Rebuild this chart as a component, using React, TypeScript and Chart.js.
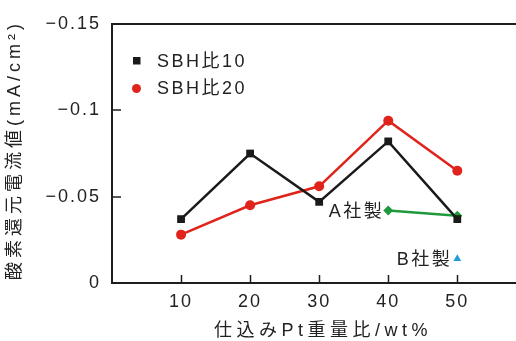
import React, { useEffect, useRef } from "react";
import { Chart, registerables } from "chart.js";
Chart.register(...registerables);

const xValues = [10, 20, 30, 40, 50];
const sbh10 = [-0.037, -0.075, -0.047, -0.082, -0.037];
const sbh20 = [-0.028, -0.045, -0.056, -0.094, -0.065];
const companyAX = [40, 50];
const companyA = [-0.042, -0.039];
const companyBX = [50];
const companyB = [-0.014];
const yTicks = [0, -0.05, -0.1, -0.15];
const xTicks = [10, 20, 30, 40, 50];
const seriesNames = ["SBH比10", "SBH比20", "A社製", "B社製"];
const xTitle = "仕込みPt重量比/wt%";
const yTitle = "酸素還元電流値(mA/cm²)";

const FONT = '"Liberation Sans", "Noto Sans CJK JP", sans-serif';
const TEXT = "#222222";
const AXIS = "#1e1e1e";

const fmt = (v: number) => (v === 0 ? "0" : "\u2212" + String(Math.abs(v)));

const decor = {
  id: "decor",
  beforeLayout(chart: any) {
    chart.ctx.letterSpacing = "2px";
  },
  beforeDraw(chart: any) {
    chart.ctx.letterSpacing = "2px";
  },
  afterDraw(chart: any) {
    const { ctx, chartArea: ca, scales } = chart;
    const xs = scales.x;
    const ys = scales.y;
    ctx.save();
    ctx.strokeStyle = AXIS;
    ctx.lineWidth = 2;
    // top border
    ctx.beginPath();
    ctx.moveTo(ca.left - 1, ca.top);
    ctx.lineTo(chart.width, ca.top);
    ctx.stroke();
    // inward ticks
    ctx.beginPath();
    for (const v of xTicks) {
      const px = Math.round(xs.getPixelForValue(v)) + 0.5;
      ctx.moveTo(px, ca.bottom);
      ctx.lineTo(px, ca.bottom - 8);
    }
    for (const v of yTicks) {
      const py = Math.round(ys.getPixelForValue(v));
      ctx.moveTo(ca.left, py);
      ctx.lineTo(ca.left + 9, py);
    }
    ctx.lineWidth = 1.5;
    ctx.stroke();

    // legend
    ctx.fillStyle = TEXT;
    ctx.font = "18px " + FONT;
    ctx.letterSpacing = "2.5px";
    ctx.textBaseline = "middle";
    ctx.textAlign = "left";
    const ds = chart.data.datasets;
    ctx.fillStyle = ds[0].pointBackgroundColor;
    ctx.fillRect(133, 57, 7.5, 7.5);
    ctx.fillStyle = TEXT;
    ctx.fillText(seriesNames[0], 157, 62);
    ctx.fillStyle = ds[1].pointBackgroundColor;
    ctx.beginPath();
    ctx.arc(136.5, 88.5, 4.5, 0, Math.PI * 2);
    ctx.fill();
    ctx.fillStyle = TEXT;
    ctx.fillText(seriesNames[1], 157, 89);

    // point labels
    ctx.textAlign = "right";
    const aPx = xs.getPixelForValue(companyAX[0]);
    const aPy = ys.getPixelForValue(companyA[0]);
    ctx.fillText(seriesNames[2], aPx - 4, aPy + 2);
    const bPx = xs.getPixelForValue(companyBX[0]);
    const bPy = ys.getPixelForValue(companyB[0]);
    ctx.fillText(seriesNames[3], bPx - 5, bPy + 1);

    // x title
    ctx.textAlign = "center";
    ctx.letterSpacing = "4.5px";
    ctx.font = "18px " + FONT;
    ctx.fillText(xTitle, 323, 331);

    // y title
    ctx.save();
    ctx.translate(15, 150);
    ctx.rotate(-Math.PI / 2);
    ctx.letterSpacing = "4px";
    ctx.fillText(yTitle, 0, 0);
    ctx.restore();

    ctx.restore();
  },
};

export default function App() {
  const ref = useRef<HTMLCanvasElement | null>(null);
  useEffect(() => {
    document.body.style.margin = "0";
    const canvas = ref.current!;
    const chart = new Chart(canvas, {
      type: "line",
      data: {
        datasets: [
          {
            label: seriesNames[0],
            data: xValues.map((x, i) => ({ x, y: sbh10[i] })),
            borderColor: "#1a1a1a",
            backgroundColor: "#1a1a1a",
            pointBackgroundColor: "#1a1a1a",
            pointBorderWidth: 0,
            pointStyle: "rect",
            pointRadius: 5.5,
            borderWidth: 2.5,
          },
          {
            label: seriesNames[1],
            data: xValues.map((x, i) => ({ x, y: sbh20[i] })),
            borderColor: "#e0241b",
            backgroundColor: "#e0241b",
            pointBackgroundColor: "#e0241b",
            pointBorderWidth: 0,
            pointStyle: "circle",
            pointRadius: 5,
            borderWidth: 2.5,
          },
          {
            label: seriesNames[2],
            data: companyAX.map((x, i) => ({ x, y: companyA[i] })),
            borderColor: "#1e9a3c",
            backgroundColor: "#1e9a3c",
            pointBackgroundColor: "#1e9a3c",
            pointBorderWidth: 0,
            pointStyle: "rectRot",
            pointRadius: 5,
            borderWidth: 2.5,
          },
          {
            label: seriesNames[3],
            data: companyBX.map((x, i) => ({ x, y: companyB[i] })),
            borderColor: "#1f9de0",
            backgroundColor: "#1f9de0",
            pointBackgroundColor: "#1f9de0",
            pointBorderWidth: 0,
            pointStyle: "triangle",
            pointRadius: 4.5,
            showLine: false,
          },
        ],
      },
      options: {
        animation: false,
        responsive: false,
        maintainAspectRatio: false,
        layout: { autoPadding: false, padding: { top: 24, right: 0, left: 0, bottom: 0 } },
        plugins: { legend: { display: false }, tooltip: { enabled: false } },
        scales: {
          x: {
            type: "linear",
            min: 0,
            max: 58.5,
            afterBuildTicks: (s: any) => {
              s.ticks = xTicks.map((v) => ({ value: v }));
            },
            afterFit: (s: any) => {
              s.height = 58;
              s.paddingLeft = 0;
              s.paddingRight = 0;
            },
            grid: { display: false, drawTicks: false },
            border: { display: true, color: AXIS, width: 2 },
            ticks: {
              padding: 8,
              color: TEXT,
              font: { family: FONT, size: 18 },
              maxRotation: 0,
              autoSkip: false,
            },
          },
          y: {
            type: "linear",
            reverse: true,
            min: -0.15,
            max: 0,
            afterBuildTicks: (s: any) => {
              s.ticks = yTicks.map((v) => ({ value: v }));
            },
            afterFit: (s: any) => {
              s.width = 112;
              s.paddingTop = 0;
              s.paddingBottom = 0;
            },
            grid: { display: false, drawTicks: false },
            border: { display: true, color: AXIS, width: 2 },
            ticks: {
              padding: 11,
              color: TEXT,
              font: { family: FONT, size: 18 },
              callback: (v: any) => fmt(Number(v)),
            },
          },
        },
      },
      plugins: [decor],
    } as any);
    return () => chart.destroy();
  }, []);
  return (
    <div style={{ position: "absolute", left: 0, top: 0, width: 516, height: 341, background: "#fff" }}>
      <canvas ref={ref} width={516} height={341} style={{ width: 516, height: 341 }} />
    </div>
  );
}
